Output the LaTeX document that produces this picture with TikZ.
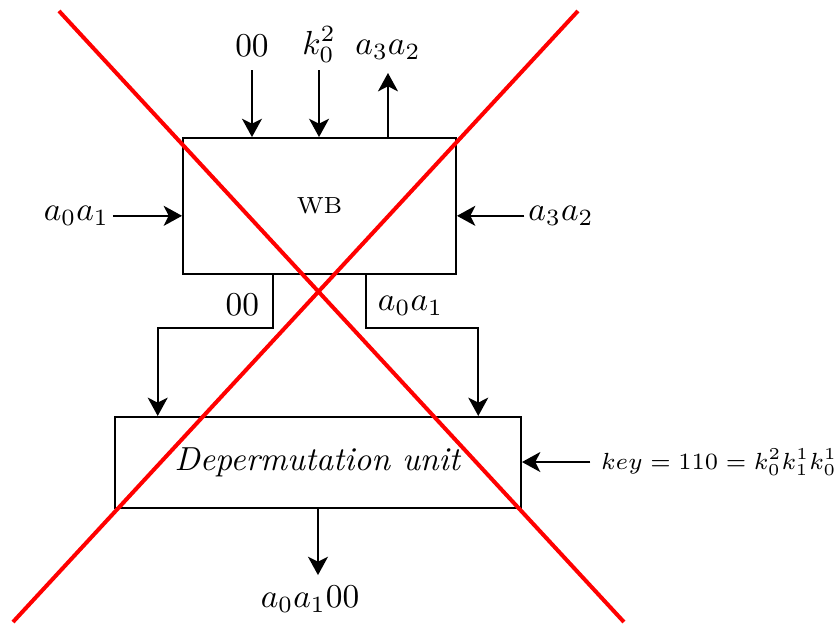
\documentclass[tikz,border=0pt]{standalone}
\usepackage{amsmath}
\usepackage{tikz}
\usetikzlibrary{arrows.meta, positioning, calc}
\definecolor{crossred}{RGB}{255, 0, 0}

\begin{document}
\begin{tikzpicture}[
  blockbox/.style={draw, semithick, rectangle, inner sep=0pt},
  arr/.style={-{Stealth[length=5.5pt, width=6pt, inset=1.5pt]}, semithick},
  lbl/.style={inner sep=1pt}]
\useasboundingbox (0,0) rectangle (8.794,6.601);
\node[blockbox, minimum width=2.878cm, minimum height=1.434cm, font=\scriptsize] (wb) at (3.369,4.428) {WB};
\node[blockbox, minimum width=4.281cm, minimum height=0.960cm] (dep) at (3.353,1.724) {\textit{Depermutation unit}};
% inputs on top of WB
\coordinate (topin) at (0,5.862);
\node[lbl, anchor=base] (t00) at (2.657,6.000) {$00$};
\node[lbl, anchor=base] (tk) at (3.364,6.031) {$k_0^2$};
\node[lbl, anchor=base] (ta) at (4.091,6.031) {$a_3a_2$};
\draw[arr] (t00 |- topin) -- (t00 |- wb.north);
\draw[arr] (tk |- topin) -- (tk |- wb.north);
\draw[arr] (ta |- wb.north) -- ([yshift=-0.2cm]ta.base);
% side inputs
\node[lbl, anchor=east] (lin) at (1.191,4.325) {$a_0a_1$};
\node[lbl, anchor=west] (rin) at (5.530,4.325) {$a_3a_2$};
\draw[arr] (lin.east) -- (lin.east -| wb.west);
\draw[arr] (rin.west) -- (rin.west -| wb.east);
% outputs of WB into the depermutation unit
\draw[arr] ([xshift=-0.49cm]wb.south) -- ++(0,-0.559) -| ([xshift=-1.69cm]dep.north);
\draw[arr] ([xshift=0.49cm]wb.south) -- ++(0,-0.559) -| ([xshift=1.69cm]dep.north);
\node[lbl, anchor=base east] (b00) at (2.773,3.269) {$00$};
\node[lbl, anchor=base west] (ba) at (3.943,3.322) {$a_0a_1$};
% key and result
\node[lbl, anchor=west, font=\fontsize{7}{9}\selectfont] (key) at (6.295,1.729) {$key=110=k_0^2k_1^1k_0^1$};
\draw[arr, shorten <=0.07cm] (key.west) -- (key.west -| dep.east);
\node[lbl, anchor=base] (out) at (3.269,0.200) {$a_0a_100$};
\draw[arr] (dep.south) -- ([yshift=0.337cm]out.base -| dep.south);
% crossed out
\draw[crossred, line width=1.2pt] (0.622,6.485) -- (6.579,0.042);
\draw[crossred, line width=1.2pt] (6.094,6.485) -- (0.137,0.042);
\end{tikzpicture}
\end{document}
